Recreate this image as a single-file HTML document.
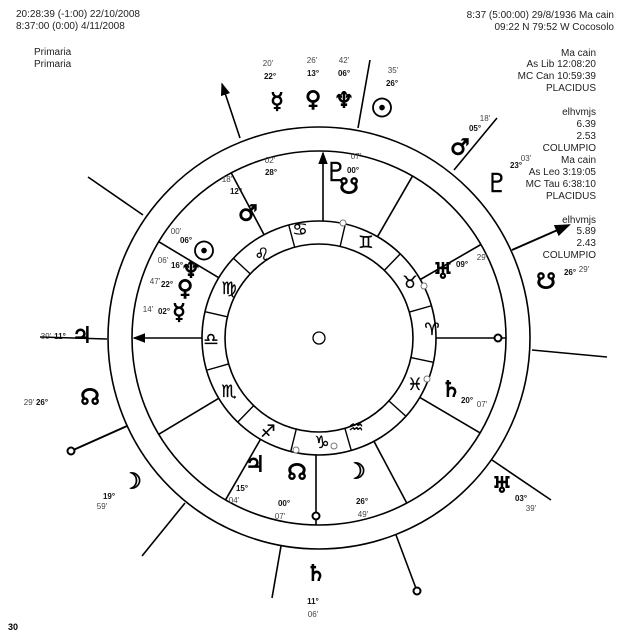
<!DOCTYPE html>
<html><head><meta charset="utf-8"><style>
html,body{margin:0;padding:0;background:#fff;}
svg{display:block;}
.t{font-family:"Liberation Sans",sans-serif;font-size:10px;fill:#222;}
.d{font-family:"Liberation Sans",sans-serif;font-size:8px;font-weight:bold;fill:#111;}
.m{font-family:"Liberation Sans",sans-serif;font-size:8px;fill:#444;}
.g{font-family:"DejaVu Sans",sans-serif;font-size:22px;font-weight:bold;fill:#000;stroke:#000;stroke-width:0.9;text-anchor:middle;dominant-baseline:central;}
.z{font-family:"DejaVu Sans",sans-serif;font-size:17px;fill:#000;stroke:#000;stroke-width:0.3;text-anchor:middle;dominant-baseline:central;}
</style></head><body>
<svg width="638" height="638" viewBox="0 0 638 638" xmlns="http://www.w3.org/2000/svg">
<defs><marker id="ar" markerWidth="8" markerHeight="6" refX="7" refY="3" orient="auto"><path d="M0,0 L8,3 L0,6 z" fill="#000"/></marker></defs>
<text class="t" x="16" y="17">20:28:39 (-1:00) 22/10/2008</text>
<text class="t" x="16" y="29">8:37:00 (0:00) 4/11/2008</text>
<text class="t" x="34" y="55">Primaria</text>
<text class="t" x="34" y="67">Primaria</text>
<g class="t" text-anchor="end">
<text x="614" y="18">8:37 (5:00:00) 29/8/1936  Ma cain</text>
<text x="614" y="30">09:22 N  79:52 W  Cocosolo</text>
<text x="596" y="56">Ma cain</text>
<text x="596" y="67">As Lib  12:08:20</text>
<text x="596" y="79">MC Can  10:59:39</text>
<text x="596" y="91">PLACIDUS</text>
<text x="596" y="115">elhvmjs</text>
<text x="596" y="127">6.39</text>
<text x="596" y="139">2.53</text>
<text x="596" y="151">COLUMPIO</text>
<text x="596" y="163">Ma cain</text>
<text x="596" y="175">As Leo   3:19:05</text>
<text x="596" y="187">MC Tau   6:38:10</text>
<text x="596" y="199">PLACIDUS</text>
<text x="596" y="223">elhvmjs</text>
<text x="596" y="234">5.89</text>
<text x="596" y="246">2.43</text>
<text x="596" y="258">COLUMPIO</text>
</g>
<text x="8" y="630" style="font-family:'Liberation Sans',sans-serif;font-size:9px;font-weight:bold">30</text>

<g fill="none" stroke="#000" stroke-width="1.6">
<circle cx="319" cy="338" r="211"/>
<circle cx="319" cy="338" r="187"/>
<circle cx="319" cy="338" r="117"/>
<circle cx="319" cy="338" r="94"/>
<circle cx="319" cy="338" r="6" stroke-width="1.3"/>
</g>
<g transform="translate(319,338)" stroke="#000" stroke-width="1.6">
<line x1="117" y1="0" x2="187" y2="0" transform="rotate(0)"/>
<line x1="117" y1="0" x2="187" y2="0" transform="rotate(-30)"/>
<line x1="117" y1="0" x2="187" y2="0" transform="rotate(-60)"/>
<line x1="117" y1="0" x2="187" y2="0" transform="rotate(-118)"/>
<line x1="117" y1="0" x2="187" y2="0" transform="rotate(-149)"/>
<line x1="117" y1="0" x2="187" y2="0" transform="rotate(-211)"/>
<line x1="117" y1="0" x2="187" y2="0" transform="rotate(-240)"/>
<line x1="117" y1="0" x2="187" y2="0" transform="rotate(-298)"/>
<line x1="117" y1="0" x2="187" y2="0" transform="rotate(-329.5)"/>
<line x1="4" y1="-117" x2="4" y2="-185" marker-end="url(#ar)"/>
<line x1="-117" y1="0" x2="-185" y2="0" marker-end="url(#ar)"/>
<line x1="-3" y1="117" x2="-3" y2="187"/>
</g>
<circle cx="316" cy="516" r="3.5" fill="#fff" stroke="#000" stroke-width="2"/>
<circle cx="498" cy="338" r="3.5" fill="#fff" stroke="#000" stroke-width="2"/>
<g transform="translate(319,338)" stroke="#000" stroke-width="1.4">
<line x1="94" y1="0" x2="117" y2="0" transform="rotate(-16)"/>
<line x1="94" y1="0" x2="117" y2="0" transform="rotate(-46)"/>
<line x1="94" y1="0" x2="117" y2="0" transform="rotate(-77)"/>
<line x1="94" y1="0" x2="117" y2="0" transform="rotate(-105)"/>
<line x1="94" y1="0" x2="117" y2="0" transform="rotate(-137)"/>
<line x1="94" y1="0" x2="117" y2="0" transform="rotate(-167)"/>
<line x1="94" y1="0" x2="117" y2="0" transform="rotate(-196)"/>
<line x1="94" y1="0" x2="117" y2="0" transform="rotate(-226)"/>
<line x1="94" y1="0" x2="117" y2="0" transform="rotate(-256)"/>
<line x1="94" y1="0" x2="117" y2="0" transform="rotate(-286)"/>
<line x1="94" y1="0" x2="117" y2="0" transform="rotate(-318)"/>
<line x1="94" y1="0" x2="117" y2="0" transform="rotate(-348)"/>
</g>
<g class="z">
<text x="432" y="330">♈</text>
<text x="410" y="283">♉</text>
<text x="366" y="243">♊</text>
<text x="300" y="230">♋</text>
<text x="262" y="255">♌</text>
<text x="229" y="289">♍</text>
<text x="211" y="340">♎</text>
<text x="229" y="392">♏</text>
<text x="268" y="432">♐</text>
<text x="322" y="443">♑</text>
<text x="356" y="428">♒</text>
<text x="415" y="385">♓</text>
</g>
<g fill="#fff" stroke="#777" stroke-width="1">
<circle cx="343" cy="223" r="3"/><circle cx="424" cy="286" r="3"/><circle cx="427" cy="379" r="3"/><circle cx="334" cy="446" r="3"/><circle cx="296" cy="450" r="3"/>
</g>
<g stroke="#000" stroke-width="1.6">
<line x1="240" y1="138" x2="222" y2="84" marker-end="url(#ar)"/>
<line x1="143" y1="215" x2="88" y2="177"/>
<line x1="107" y1="339" x2="40" y2="337"/>
<line x1="127" y1="426" x2="71" y2="451" stroke-width="2"/>
<line x1="185" y1="503" x2="142" y2="556"/>
<line x1="281" y1="546" x2="272" y2="598"/>
<line x1="396" y1="535" x2="417" y2="591"/>
<line x1="492" y1="460" x2="551" y2="500"/>
<line x1="532" y1="350" x2="607" y2="357"/>
<line x1="512" y1="250" x2="569" y2="225" stroke-width="2" marker-end="url(#ar)"/>
<line x1="454" y1="170" x2="497" y2="118"/>
<line x1="358" y1="128" x2="370" y2="60"/>
</g>
<circle cx="71" cy="451" r="3.5" fill="#fff" stroke="#000" stroke-width="2"/>
<circle cx="417" cy="591" r="3.5" fill="#fff" stroke="#000" stroke-width="2"/>
<g class="g">
<text x="277" y="102">☿</text><text x="313" y="100">♀</text><text x="344" y="101">♆</text><text x="382" y="109" style="font-size:26px">☉</text>
<text x="460" y="148">♂</text><text x="497" y="184" style="font-size:26px;stroke-width:0.4">♇</text>
<text x="546" y="282">☋</text><text x="82" y="336">♃</text><text x="90" y="398">☊</text>
<text x="132" y="482">☽</text><text x="316" y="574">♄</text><text x="502" y="486">♅</text>
<text x="336" y="173" style="font-size:26px;stroke-width:0.4">♇</text><text x="349" y="187">☋</text>
<text x="248" y="214">♂</text><text x="204" y="252" style="font-size:26px">☉</text><text x="191" y="271">♆</text>
<text x="185" y="289">♀</text><text x="179" y="313">☿</text><text x="443" y="272">♅</text>
<text x="451" y="390">♄</text><text x="255" y="465">♃</text><text x="297" y="473">☊</text><text x="356" y="472">☽</text>
</g>
<g class="d" text-anchor="middle">
<text x="270" y="79">22°</text><text x="313" y="76">13°</text><text x="344" y="76">06°</text><text x="392" y="86">26°</text>
<text x="475" y="131">05°</text><text x="516" y="168">23°</text><text x="570" y="275">26°</text>
<text x="60" y="339">11°</text><text x="42" y="405">26°</text><text x="109" y="499">19°</text>
<text x="313" y="604">11°</text><text x="521" y="501">03°</text>
<text x="271" y="175">28°</text><text x="353" y="173">00°</text><text x="236" y="194">12°</text><text x="186" y="243">06°</text>
<text x="177" y="268">16°</text><text x="167" y="287">22°</text><text x="164" y="314">02°</text>
<text x="462" y="267">09°</text><text x="467" y="403">20°</text><text x="242" y="491">15°</text><text x="284" y="506">00°</text><text x="362" y="504">26°</text>
</g>
<g class="m" text-anchor="middle">
<text x="268" y="66">20'</text><text x="312" y="63">26'</text><text x="344" y="63">42'</text><text x="393" y="73">35'</text>
<text x="485" y="121">18'</text><text x="526" y="161">03'</text><text x="584" y="272">29'</text>
<text x="46" y="339">39'</text><text x="29" y="405">29'</text><text x="102" y="509">59'</text>
<text x="313" y="617">06'</text><text x="531" y="511">39'</text>
<text x="270" y="163">02'</text><text x="356" y="159">07'</text><text x="227" y="182">18'</text><text x="176" y="234">00'</text>
<text x="163" y="263">06'</text><text x="155" y="284">47'</text><text x="148" y="312">14'</text>
<text x="482" y="260">29'</text><text x="482" y="407">07'</text><text x="234" y="503">04'</text><text x="280" y="519">07'</text><text x="363" y="517">49'</text>
</g>
</svg>
</body></html>
